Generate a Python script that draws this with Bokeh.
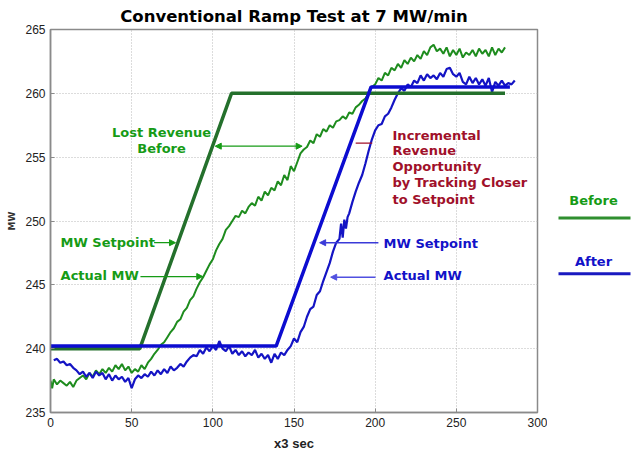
from bokeh.plotting import figure
from bokeh.layouts import row
from bokeh.models import Range1d, FixedTicker, Label, Arrow, NormalHead
from bokeh.embed import file_html
from bokeh.resources import INLINE

# ---------------- data ----------------
x_ticks = [0, 50, 100, 150, 200, 250, 300]
y_ticks = [235, 240, 245, 250, 255, 260, 265]

before_sp_x = [0, 55, 111.5, 280]
before_sp_y = [240.0, 240.0, 260.0, 260.0]

after_sp_x = [0, 139, 197.5, 283]
after_sp_y = [240.2, 240.2, 260.5, 260.5]

before_act_x = [0, 1, 2, 4, 6, 8, 10, 12, 14, 16, 18, 20, 22, 24, 26, 28, 30, 32, 34, 36, 38,
                40, 42, 44, 46, 48, 50, 52, 54, 56, 58, 60, 62, 64, 66, 68, 70, 72, 74, 76, 78,
                80, 82, 84, 86, 88, 90, 92, 94, 96, 98, 100, 102, 104, 106, 108, 110, 112, 114,
                116, 118, 120, 122, 124, 126, 128, 130, 132, 134, 136, 138, 140, 142, 144, 146,
                148, 150, 152, 154, 156, 158, 160, 162, 164, 166, 168, 170, 172, 174, 176, 178,
                180, 182, 184, 186, 188, 190, 192, 194, 196, 198, 200, 202, 204, 206, 208, 210,
                212, 214, 216, 218, 220, 222, 224, 226, 228, 230, 232, 234, 236, 238, 240, 242,
                244, 246, 248, 250, 252, 254, 256, 258, 260, 262, 264, 266, 268, 270, 272, 274,
                276, 278, 280]
before_act_y = [237.5, 236.9, 237.6, 237.2, 237.5, 237.3, 237.1, 237.4, 237.0, 237.5, 237.7,
                237.9, 237.6, 238.1, 237.8, 238.3, 238.0, 238.4, 238.1, 238.5, 238.2, 238.7,
                238.4, 238.8, 238.3, 238.6, 238.1, 238.4, 238.2, 238.7, 238.4, 238.9, 239.2,
                239.6, 239.9, 240.3, 240.5, 240.9, 241.3, 241.6, 242.1, 242.3, 242.9, 243.2,
                243.8, 244.1, 244.7, 245.2, 245.6, 246.1, 246.6, 247.0, 247.7, 248.2, 248.6,
                249.3, 249.6, 250.0, 250.4, 250.3, 250.8, 250.6, 251.1, 251.4, 251.2, 251.9,
                251.6, 252.3, 252.0, 252.6, 252.4, 253.1, 252.8, 253.6, 253.2, 254.3, 253.9,
                254.6, 255.3, 255.6, 255.8, 256.3, 256.1, 256.8, 256.6, 257.2, 257.0, 257.5,
                257.3, 257.8, 257.9, 258.2, 258.0, 258.5, 258.4, 258.9, 259.1, 259.4, 259.6,
                260.0, 260.5, 260.7, 261.2, 261.0, 261.6, 261.4, 262.0, 261.8, 262.3, 262.0,
                262.6, 262.3, 262.8, 262.5, 263.0, 262.7, 263.3, 263.0, 263.6, 263.8, 263.3,
                263.5, 263.1, 263.6, 262.9, 263.4, 263.0, 263.5, 262.8, 263.2, 263.0, 263.4,
                262.9, 263.5, 263.1, 263.4, 262.9, 263.6, 263.0, 263.5, 263.2, 263.6]

after_act_x = [2, 4, 6, 8, 10, 12, 14, 16, 18, 20, 22, 24, 26, 28, 30, 32, 34, 36, 38, 40, 42,
               44, 46, 48, 50, 52, 54, 56, 58, 60, 62, 64, 66, 68, 70, 72, 74, 76, 78, 80, 82,
               84, 86, 88, 90, 92, 94, 96, 98, 100, 102, 104, 106, 108, 110, 112, 114, 116, 118,
               120, 122, 124, 126, 128, 130, 132, 134, 136, 138, 140, 142, 144, 146, 148, 150,
               152, 154, 156, 158, 160, 162, 164, 166, 168, 170, 172, 174, 176, 178, 179, 180,
               181, 182, 183, 184, 186, 188, 190, 192, 194, 196, 198, 200, 202, 204, 206, 208,
               210, 212, 214, 216, 218, 220, 222, 224, 226, 228, 230, 232, 234, 236, 238, 240,
               242, 244, 246, 248, 250, 252, 254, 256, 258, 260, 262, 264, 266, 268, 270, 272,
               274, 276, 278, 280, 282, 284, 286]
after_act_y = [239.1, 239.2, 238.9, 239.0, 238.7, 238.8, 238.5, 238.3, 238.0, 238.2, 237.8,
               238.1, 237.7, 238.2, 237.9, 238.1, 237.6, 238.0, 237.5, 237.9, 237.6, 237.8,
               237.4, 237.7, 236.9, 237.6, 237.9, 237.7, 238.0, 237.8, 238.2, 237.9, 238.3,
               238.0, 238.4, 238.1, 238.6, 238.3, 238.5, 238.8, 238.6, 239.0, 239.3, 239.5,
               239.4, 239.9, 239.6, 240.1, 239.8, 240.2, 239.9, 240.6, 240.0, 239.8, 240.2,
               239.6, 239.9, 239.5, 239.8, 239.4, 239.7, 239.5, 239.9, 239.3, 239.6, 239.2,
               239.5, 238.9, 239.6, 239.2, 239.7, 239.5, 239.9, 240.2, 240.8, 240.5, 241.3,
               241.7, 242.5, 243.1, 243.3, 244.2, 244.5, 245.3, 246.0, 246.7, 247.6, 248.3,
               248.6, 249.8, 248.7, 250.1, 249.4, 250.3, 250.6, 251.5, 252.3, 253.0, 253.6,
               254.5, 255.5, 256.4, 257.1, 257.5, 257.6, 258.2, 258.4, 258.9, 259.5, 260.0,
               260.4, 260.2, 260.7, 260.5, 261.0, 260.8, 261.4, 261.0, 261.5, 261.2, 261.4,
               261.1, 261.6, 261.3, 261.9, 262.0, 261.5, 261.3, 261.6, 260.9, 260.7, 261.3,
               260.8, 261.2, 260.7, 261.1, 260.6, 261.2, 260.1, 260.9, 260.6, 261.0, 260.6,
               260.8, 260.7, 261.0]

title_text = "Conventional Ramp Test at 7 MW/min"
x_label = "x3 sec"
y_label = "MW"
legend_names = ["Before", "After"]
red_lines = ["Incremental", "Revenue", "Opportunity", "by Tracking Closer", "to Setpoint"]

# ---------------- styles ----------------
C_GSP = "#24702c"
C_GACT = "#1e8c1e"
C_GTXT = "#169b16"
C_BSP = "#0c0cd0"
C_BACT = "#1414c4"
C_BTXT = "#1212c8"
C_RED = "#a0102a"
FONT_B = "DejaVu Sans"
H = 453
ANN = "13px"

p = figure(width=547, height=H, x_range=Range1d(0, 300), y_range=Range1d(235, 265),
           output_backend="svg", toolbar_location=None,
           min_border_left=50, min_border_right=10, min_border_top=29, min_border_bottom=40)
p.background_fill_color = "white"
p.border_fill_color = "white"
p.outline_line_color = "#8a8a8a"
p.outline_line_width = 1.5

p.title.text = title_text
p.title.align = "center"
p.title.text_font = FONT_B
p.title.text_font_size = "16.5px"
p.title.text_font_style = "bold"
p.title.text_color = "#000000"
p.title.standoff = 8

for ax in (p.xaxis, p.yaxis):
    ax.axis_line_color = "#8a8a8a"
    ax.axis_line_width = 1.5
    ax.major_tick_in = 4
    ax.major_tick_out = 0
    ax.major_tick_line_color = "#8a8a8a"
    ax.minor_tick_line_color = None
    ax.major_label_text_font = "Liberation Sans"
    ax.major_label_text_font_size = "12px"
    ax.major_label_text_color = "#222222"
p.xaxis.ticker = FixedTicker(ticks=x_ticks)
p.yaxis.ticker = FixedTicker(ticks=y_ticks)
p.xaxis.axis_label = x_label
p.xaxis.axis_label_text_font = "Liberation Sans"
p.xaxis.axis_label_text_font_style = "bold"
p.xaxis.axis_label_text_font_size = "13px"
p.xaxis.axis_label_text_color = "#222222"
p.xaxis.axis_label_standoff = 6
p.yaxis.axis_label = y_label
p.yaxis.axis_label_text_font = FONT_B
p.yaxis.axis_label_text_font_style = "bold"
p.yaxis.axis_label_text_font_size = "9px"
p.yaxis.axis_label_text_color = "#333333"
p.yaxis.axis_label_standoff = 5

p.grid.grid_line_color = "#b8b8b8"
p.grid.grid_line_dash = "1 2"
p.grid.grid_line_width = 1

# lines
p.line(before_act_x, before_act_y, line_color=C_GACT, line_width=2)
p.line(after_act_x, after_act_y, line_color=C_BACT, line_width=2.2)
p.line(before_sp_x, before_sp_y, line_color=C_GSP, line_width=3.5)
p.line(after_sp_x, after_sp_y, line_color=C_BSP, line_width=3.5)


def lab(fig, x, y, text, color, size=ANN, align="left"):
    fig.add_layout(Label(x=x, y=y, text=text, text_color=color, text_font=FONT_B,
                         text_font_size=size, text_font_style="bold", text_align=align,
                         text_baseline="middle"))


def arr(x0, y0, x1, y1, color, start=False, end=True, width=1.5):
    kw = {}
    kw["start"] = NormalHead(size=6, fill_color=color, line_color=color) if start else None
    kw["end"] = NormalHead(size=6, fill_color=color, line_color=color) if end else None
    p.add_layout(Arrow(x_start=x0, y_start=y0, x_end=x1, y_end=y1, line_color=color,
                       line_width=width, **kw))


# "before" annotations
lab(p, 68.4, 256.9, "Lost Revenue", C_GTXT, align="center")
lab(p, 68.4, 255.7, "Before", C_GTXT, align="center")
arr(101.5, 255.86, 155.0, 255.86, C_GTXT, start=True, end=True, width=1.3)
lab(p, 6.2, 248.3, "MW Setpoint", C_GTXT)
arr(63.8, 248.3, 77.0, 248.3, C_GTXT, width=1.3)
lab(p, 6.2, 245.7, "Actual MW", C_GTXT)
arr(55.4, 245.65, 93.8, 245.65, C_GTXT, width=1.3)

# red note
red_y = [256.72, 255.5, 254.3, 253.0, 251.7]
for t, yy in zip(red_lines, red_y):
    lab(p, 210.7, yy, t, C_RED)
arr(188.0, 256.1, 198.2, 256.1, C_RED, end=False, width=1.3)

# "after" annotations
lab(p, 205.2, 248.2, "MW Setpoint", C_BTXT)
arr(202.0, 248.3, 165.8, 248.3, "#3a3ad8", width=1.5)
lab(p, 205.2, 245.7, "Actual MW", C_BTXT)
arr(200.2, 245.6, 172.6, 245.6, "#5050e0", width=1.5)

# legend panel to the right; its frame lines up with the main frame (page y 29..413)
LW = 87
leg = figure(width=LW, height=H, x_range=Range1d(0, LW), y_range=Range1d(413, 29),
             output_backend="svg", toolbar_location=None,
             x_axis_location=None, y_axis_location=None,
             min_border=0, min_border_left=0, min_border_right=0,
             min_border_top=29, min_border_bottom=40)
leg.outline_line_color = None
leg.grid.visible = False
leg.background_fill_color = "white"
leg.border_fill_color = "white"
leg_colors_txt = [C_GTXT, C_BTXT]
leg_colors_line = ["#2f8f2f", "#1a1ac0"]
leg_text_y = [200, 262]
leg_line_y = [218, 274]
for name, ct, cl, ty, ly in zip(legend_names, leg_colors_txt, leg_colors_line, leg_text_y, leg_line_y):
    lab(leg, 46, ty, name, ct, align="center")
    leg.line([11, 83], [ly, ly], line_color=cl, line_width=3)

layout = row(p, leg, spacing=0)
open("out.html", "w").write(file_html(layout, INLINE))
